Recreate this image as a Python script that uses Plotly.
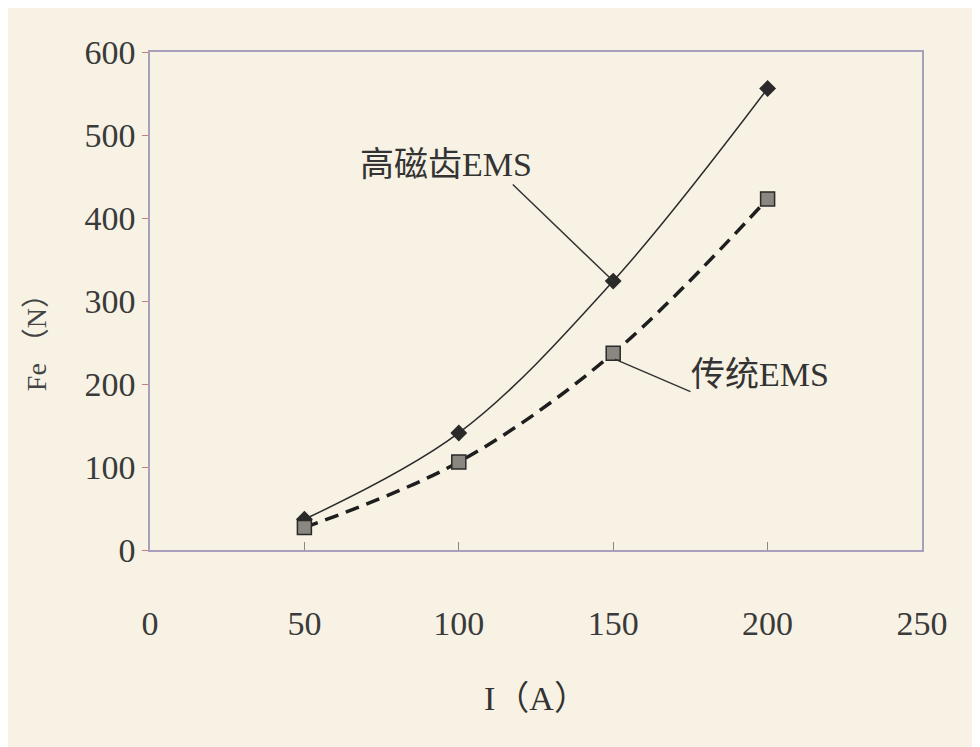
import plotly.graph_objects as go

current = [50, 100, 150, 200]
high_tooth = [37, 141, 324, 556]
traditional = [27, 106, 237, 423]
x_ticks = [0, 50, 100, 150, 200, 250]
y_ticks = [0, 100, 200, 300, 400, 500, 600]

bg = "#f7f2e4"
serif = "Liberation Serif, DejaVu Serif, serif"
cjk = "Liberation Serif, Noto Sans CJK SC, serif"

fig = go.Figure()
fig.add_trace(go.Scatter(
    x=current, y=high_tooth, mode="lines+markers", name="高磁齿EMS",
    line=dict(color="#2a2a2a", width=1.5, shape="spline"),
    marker=dict(symbol="diamond", size=13, color="#2a2a2a"),
))
fig.add_trace(go.Scatter(
    x=current, y=traditional, mode="lines+markers", name="传统EMS",
    line=dict(color="#1e1e1e", width=3.5, dash="14px,8px", shape="spline"),
    marker=dict(symbol="square", size=14, color="#8a8680",
                line=dict(color="#2a2a2a", width=1.5)),
))

# leader lines
fig.add_annotation(x=150, y=high_tooth[2], ax=117, ay=442, axref="x", ayref="y",
                   showarrow=True, arrowhead=0, arrowwidth=1.5, arrowcolor="#333",
                   text="", xref="x", yref="y")
fig.add_annotation(x=96, y=464, xref="x", yref="y", text="高磁齿EMS", showarrow=False,
                   font=dict(family=cjk, size=34, color="#333"))
fig.add_annotation(x=150.5, y=230, ax=175.5, ay=190, axref="x", ayref="y",
                   showarrow=True, arrowhead=0, arrowwidth=1.5, arrowcolor="#333",
                   text="", xref="x", yref="y")
fig.add_annotation(x=197.5, y=211, xref="x", yref="y", text="传统EMS", showarrow=False,
                   font=dict(family=cjk, size=34, color="#333"))

# y-axis title (placed slightly below centre as in the original)
fig.add_annotation(x=-0.146, y=0.43, xref="paper", yref="paper", text="Fe （N）",
                   textangle=-90, showarrow=False, xanchor="center", yanchor="middle",
                   font=dict(family=cjk, size=28, color="#444"))

fig.update_layout(
    width=980, height=747,
    paper_bgcolor=bg, plot_bgcolor=bg,
    margin=dict(l=142, r=66, t=44, b=205),
    showlegend=False,
    font=dict(family=serif, color="#333"),
    xaxis=dict(range=[0, 250], tickvals=x_ticks, showgrid=False, zeroline=False,
               showline=True, linecolor="#a99fbd", linewidth=1.5, mirror=True,
               ticks="inside", ticklen=8, tickcolor="#888",
               tickfont=dict(family=serif, size=34, color="#3a3a3a"),
               ticklabelstandoff=42,
               title=dict(text="I（A）", font=dict(family=cjk, size=34, color="#333"), standoff=46)),
    yaxis=dict(range=[0, 600], tickvals=y_ticks, showgrid=False, zeroline=False,
               showline=True, linecolor="#a99fbd", linewidth=1.5, mirror=True,
               ticks="outside", ticklen=6, tickcolor="#c08080",
               tickfont=dict(family=serif, size=34, color="#3a3a3a")),
)

fig.write_html("out.html")
